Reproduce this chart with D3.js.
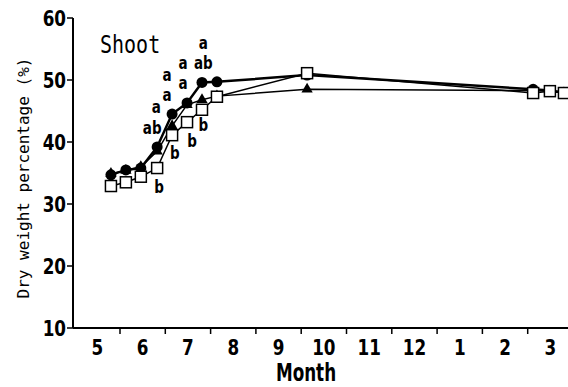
<!DOCTYPE html>
<html>
<head>
  <meta charset="utf-8">
  <script src="https://d3js.org/d3.v7.min.js"></script>
  <style type="text/css">
    body { margin: 0; background: #fff; }
    text { fill: #000; }
  </style>
</head>
<body>
  <div id="chart"></div>
  <script type="text/javascript">
    // months after 1 May
    var dates = [0.80, 1.13, 1.46, 1.82, 2.15, 2.48, 2.81, 3.14, 5.13, 10.12, 10.49, 10.80];
    var circleVals = [34.7, 35.5, 35.8, 39.2, 44.5, 46.3, 49.6, 49.7, 50.8, 48.5, 48.3, 48.0];
    var triangleVals = [34.9, 35.4, 36.0, 38.5, 42.6, 46.0, 46.8, 47.4, 48.5, 48.3, 48.2, 47.9];
    var squareVals = [32.9, 33.5, 34.4, 35.8, 41.1, 43.2, 45.2, 47.3, 51.1, 47.9, 48.2, 47.9];
    var monthLabels = ['5', '6', '7', '8', '9', '10', '11', '12', '1', '2', '3'];
    var yTicks = [10, 20, 30, 40, 50, 60];
    // significance letters: [month, value, text]
    var letters = [
      [2.84, 56.0, 'a'], [2.39, 52.7, 'a'], [2.84, 52.7, 'ab'],
      [2.04, 50.8, 'a'], [2.39, 49.5, 'a'], [2.04, 47.6, 'a'],
      [1.80, 45.7, 'a'], [1.71, 42.3, 'ab'], [2.84, 42.7, 'b'],
      [2.59, 40.2, 'b'], [2.21, 38.2, 'b'], [1.86, 32.7, 'b']
    ];

    var width = 568, height = 387;
    var svg = d3.select('#chart').append('svg')
      .attr('width', width).attr('height', height);

    var x = d3.scaleLinear().domain([0, 11]).range([74.7, 74.7 + 11 * 45.3]);
    var y = d3.scaleLinear().domain([10, 60]).range([328, 18]);

    // narrow text, like the gothic face of the original
    function label(tx, ty, str, size, sx, anchor, weight, family) {
      return svg.append('text')
        .attr('transform', 'translate(' + tx + ',' + ty + ') scale(' + sx + ',1)')
        .attr('text-anchor', anchor || 'middle')
        .style('font-family', family || 'DejaVu Sans')
        .style('font-weight', weight || 'bold')
        .style('font-size', size + 'px')
        .text(str);
    }

    // y axis
    svg.append('line')
      .attr('x1', 73).attr('x2', 73).attr('y1', y(60)).attr('y2', y(10))
      .attr('stroke', '#000').attr('stroke-width', 2);
    yTicks.forEach(function(t) {
      svg.append('line')
        .attr('x1', 67).attr('x2', 73).attr('y1', y(t)).attr('y2', y(t))
        .attr('stroke', '#000').attr('stroke-width', 1.5);
      label(66, y(t) + 7.5, t, 21, 0.8, 'end');
    });

    // x axis
    svg.append('line')
      .attr('x1', 73).attr('x2', width)
      .attr('y1', y(10)).attr('y2', y(10))
      .attr('stroke', '#000').attr('stroke-width', 2);
    d3.range(1, 11).forEach(function(m) {
      svg.append('line')
        .attr('x1', x(m)).attr('x2', x(m))
        .attr('y1', y(10)).attr('y2', y(10) + 6)
        .attr('stroke', '#000').attr('stroke-width', 1.5);
    });
    monthLabels.forEach(function(d, i) {
      label(x(i + 0.5), 355, d, 21, 0.8);
    });

    label(306, 381, 'Month', 24, 0.7);

    svg.append('text')
      .attr('transform', 'translate(29,178) rotate(-90)')
      .attr('text-anchor', 'middle')
      .style('font-family', 'DejaVu Sans Mono')
      .style('font-size', '16px')
      .text('Dry weight percentage (%)');

    label(100, 53, 'Shoot', 25, 0.8, 'start', 'normal', 'DejaVu Sans Mono');

    function series(vals, w) {
      var pts = dates.map(function(d, i) { return [d, vals[i]]; });
      svg.append('path').datum(pts)
        .attr('fill', 'none').attr('stroke', '#000').attr('stroke-width', w)
        .attr('d', d3.line().x(function(d) { return x(d[0]); }).y(function(d) { return y(d[1]); }));
      return pts;
    }

    var tri = series(triangleVals, 1.5);
    svg.selectAll('.tri').data(tri).enter().append('path')
      .attr('class', 'tri')
      .attr('transform', function(d) { return 'translate(' + x(d[0]) + ',' + y(d[1]) + ')'; })
      .attr('d', d3.symbol().type(d3.symbolTriangle).size(55))
      .attr('fill', '#000');

    var circ = series(circleVals, 2.5);
    svg.selectAll('.circ').data(circ).enter().append('circle')
      .attr('class', 'circ')
      .attr('cx', function(d) { return x(d[0]); })
      .attr('cy', function(d) { return y(d[1]); })
      .attr('r', 5.5)
      .attr('fill', '#000');

    var sq = series(squareVals, 1.5);
    svg.selectAll('.sq').data(sq).enter().append('rect')
      .attr('class', 'sq')
      .attr('x', function(d) { return x(d[0]) - 5.5; })
      .attr('y', function(d) { return y(d[1]) - 5.5; })
      .attr('width', 11).attr('height', 11)
      .attr('fill', '#fff').attr('stroke', '#000').attr('stroke-width', 1.5);

    letters.forEach(function(d) {
      label(x(d[0]), y(d[1]) + 6, d[2], 18, 0.75);
    });
  </script>
</body>
</html>
